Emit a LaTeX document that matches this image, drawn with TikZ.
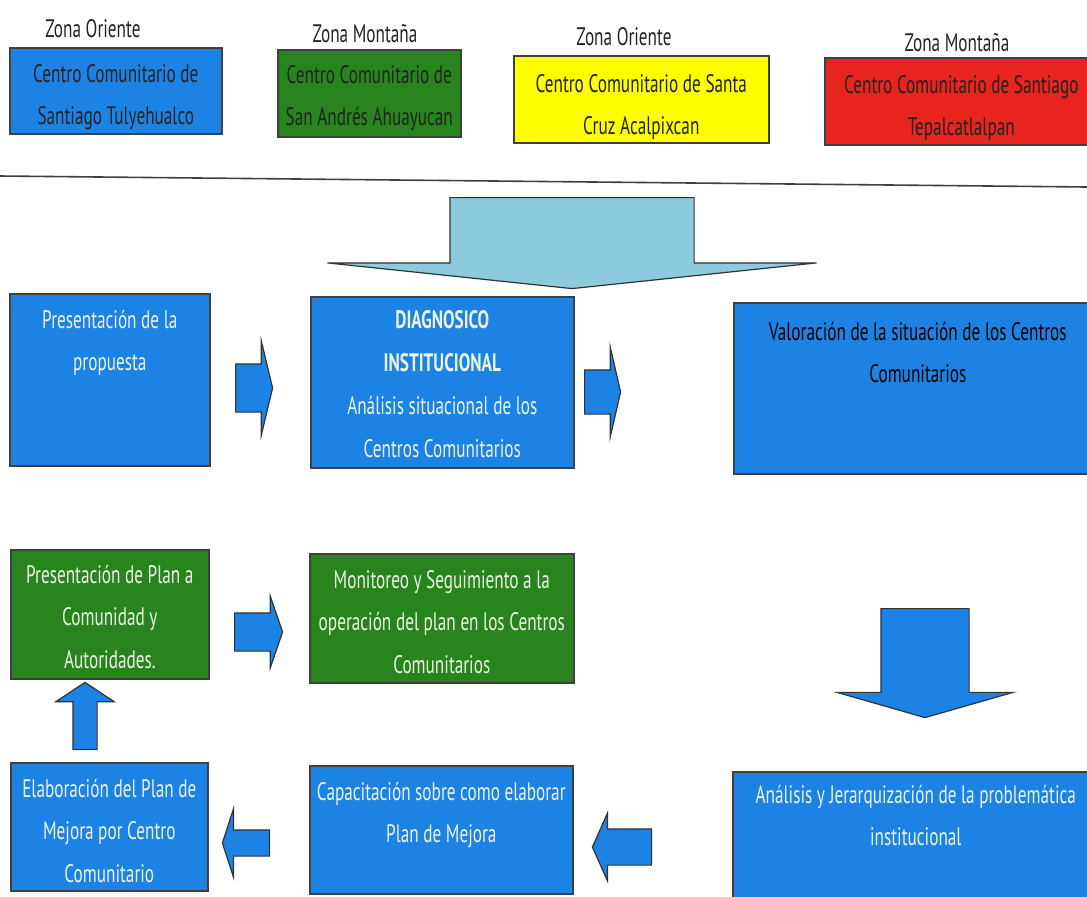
\documentclass[tikz,border=0pt]{standalone}
\usepackage{fontspec}
\setmainfont{PT Sans}[FakeStretch=0.68]
\usepackage{tikz}
\usetikzlibrary{shapes.arrows}
\definecolor{boxblue}{RGB}{28,130,228}
\definecolor{boxgreen}{RGB}{40,132,28}
\definecolor{boxyellow}{RGB}{255,255,0}
\definecolor{boxred}{RGB}{232,36,30}
\definecolor{arrcyan}{RGB}{140,202,222}
\definecolor{lighttxt}{RGB}{236,244,232}
\definecolor{darktxt}{RGB}{35,35,35}
\tikzset{
  box/.style ={rectangle, draw=black!75, line width=0.4mm, inner sep=0pt, align=center, anchor=north west, font=\fontsize{18}{30}\selectfont},
  zona/.style={anchor=base, text=darktxt, font=\fontsize{18}{30}\selectfont},
  blk/.style ={single arrow, draw=black!80, line width=0.3mm, fill=boxblue, inner sep=0pt, anchor=tail},
}
\begin{document}
\begin{tikzpicture}[x=0.25mm, y=-0.25mm]
  \useasboundingbox (0,0) rectangle (1087,896);
  \clip (0,0) rectangle (1087,896);
  % centros comunitarios
  \node[zona] (zo1) at (93,37) {Zona Oriente};
  \node[zona] (zm1) at (365,42) {Zona Montaña};
  \node[zona] (zo2) at (624,45) {Zona Oriente};
  \node[zona] (zm2) at (957,51) {Zona Montaña};
  \node[box, fill=boxblue, text=darktxt, minimum width=53mm, text height=19.29mm, text depth=2.21mm] (cc1) at (9,47) {Centro Comunitario de\\Santiago Tulyehualco};
  \node[box, fill=boxgreen, text=darktxt, minimum width=45.75mm, text height=19.04mm, text depth=2.71mm] (cc2) at (277,49) {Centro Comunitario de\\San Andrés Ahuayucan};
  \node[box, fill=boxyellow, text=darktxt, minimum width=63.75mm, text height=19.79mm, text depth=1.96mm] (cc3) at (513,55) {Centro Comunitario de Santa\\Cruz Acalpixcan};
  \node[box, fill=boxred, text=darktxt, minimum width=68.25mm, text height=19.54mm, text depth=2.21mm] (cc4) at (824,57) {Centro Comunitario de Santiago\\Tepalcatlalpan};
  \draw[black!75, line width=0.4mm] (0,176) -- (1087,187);
  \node[blk, fill=arrcyan, shape border rotate=270, inner xsep=30.375mm, minimum height=22.75mm, minimum width=122mm, single arrow head extend=30.6mm, single arrow tip angle=168] (a0) at (572,197) {};
  % primera fila
  \node[box, fill=boxblue, text=lighttxt, minimum width=50mm, text height=19.29mm, text depth=23.71mm] (p1) at (9,293) {Presentación de la\\propuesta};
  \node[box, fill=boxblue, text=lighttxt, minimum width=65.75mm, text height=40.16mm, text depth=2.59mm, font=\fontsize{18}{30.5}\selectfont] (p2) at (310,296) {\bfseries DIAGNOSICO\\\bfseries INSTITUCIONAL\\Análisis situacional de los\\Centros Comunitarios};
  \node[box, fill=boxblue, text=black, minimum width=92mm, text height=20.04mm, text depth=22.71mm] (p3) at (733,302) {Valoración de la situación de los Centros\\Comunitarios};
  \node[blk, inner ysep=5.875mm, minimum height=9.25mm, minimum width=23.25mm, single arrow head extend=5.75mm, single arrow tip angle=153] (a1) at (235,388) {};
  \node[blk, inner ysep=5.375mm, minimum height=9mm, minimum width=22.25mm, single arrow head extend=5.75mm, single arrow tip angle=154] (a2) at (584,392) {};
  % segunda fila
  \node[box, fill=boxgreen, text=lighttxt, minimum width=49.5mm, text height=29.58mm, text depth=2.67mm] (g1) at (10,549) {Presentación de Plan a\\Comunidad y\\Autoridades.};
  \node[box, fill=boxgreen, text=lighttxt, minimum width=66mm, text height=29.83mm, text depth=2.42mm] (g2) at (309,553) {Monitoreo y Seguimiento a la\\operación del plan en los Centros\\Comunitarios};
  \node[blk, inner ysep=4.625mm, minimum height=12mm, minimum width=17.5mm, single arrow head extend=4.125mm, single arrow tip angle=142] (a3) at (234,632) {};
  \node[blk, shape border rotate=270, inner xsep=10.875mm, minimum height=27.25mm, minimum width=43.75mm, single arrow head extend=11mm, single arrow tip angle=148] (a7) at (925,608) {};
  % tercera fila
  \node[box, fill=boxblue, text=lighttxt, minimum width=49.25mm, text height=29.83mm, text depth=2.17mm] (e1) at (10,762) {Elaboración del Plan de\\Mejora por Centro\\Comunitario};
  \node[box, fill=boxblue, text=lighttxt, minimum width=65.75mm, text height=19.29mm, text depth=12.71mm] (c1) at (309,765) {Capacitación sobre como elaborar\\Plan de Mejora};
  \node[box, fill=boxblue, text=lighttxt, minimum width=91.5mm, text height=18.54mm, text depth=16.46mm] (j1) at (732,771) {Análisis y Jerarquización de la problemática\\institucional};
  \node[blk, shape border rotate=90, inner xsep=2.875mm, minimum height=16.75mm, minimum width=14.25mm, single arrow head extend=4.25mm, single arrow tip angle=113] (a4) at (85,750) {};
  \node[blk, shape border rotate=180, inner ysep=3.125mm, minimum height=11.75mm, minimum width=16.75mm, single arrow head extend=5.25mm, single arrow tip angle=144] (a5) at (270,843) {};
  \node[blk, shape border rotate=180, inner ysep=4.375mm, minimum height=14.75mm, minimum width=16.75mm, single arrow head extend=4mm, single arrow tip angle=132] (a6) at (652,847) {};
\end{tikzpicture}
\end{document}
